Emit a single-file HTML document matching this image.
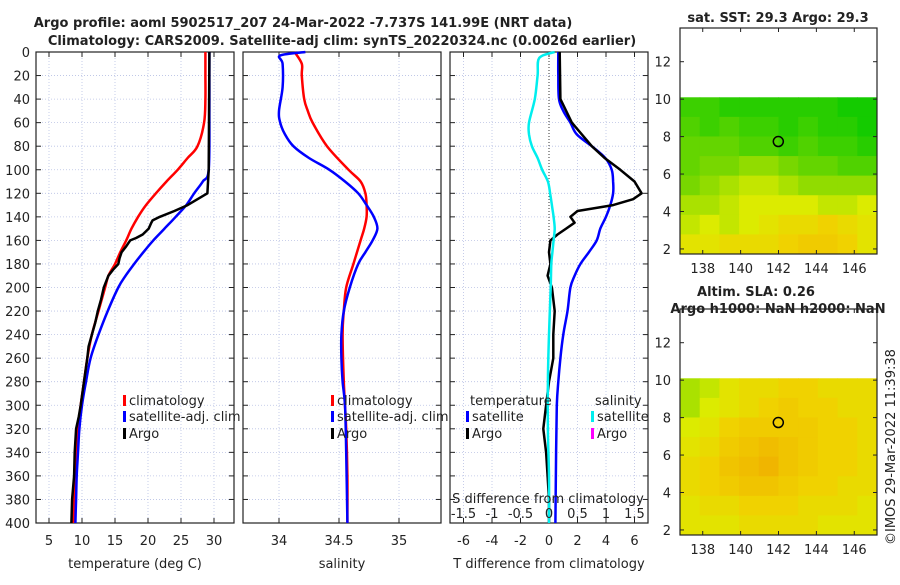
<!DOCTYPE html>
<html><head><meta charset="utf-8"><style>
body{margin:0;background:#fff;}
svg text{font-family:"DejaVu Sans","Liberation Sans",sans-serif;fill:#222;}
</style></head><body>
<svg id="c" width="900" height="580" xmlns="http://www.w3.org/2000/svg">
<text x="303" y="27" font-size="13" font-weight="bold" text-anchor="middle">Argo profile: aoml 5902517_207 24-Mar-2022 -7.737S 141.99E (NRT data)</text>
<text x="342" y="45" font-size="13" font-weight="bold" text-anchor="middle">Climatology: CARS2009. Satellite-adj clim: synTS_20220324.nc (0.0026d earlier)</text>
<text x="778" y="22" font-size="13" font-weight="bold" text-anchor="middle">sat. SST: 29.3 Argo: 29.3</text>
<text x="756" y="296" font-size="13" font-weight="bold" text-anchor="middle">Altim. SLA: 0.26</text>
<text x="778" y="313" font-size="13" font-weight="bold" text-anchor="middle">Argo h1000: NaN h2000: NaN</text>
<text transform="translate(895,545) rotate(-90)" font-size="13">©IMOS 29-Mar-2022 11:39:38</text>
</svg>
<script>
// ---- data ----
const depthTicks=[0,20,40,60,80,100,120,140,160,180,200,220,240,260,280,300,320,340,360,380,400];
const tTicks=[5,10,15,20,25,30];
const sTicks=[34,34.5,35];
const sTickLabels=["34","34.5","35"];
const dTTicks=[-6,-4,-2,0,2,4,6];
const dSTicks=[-1.5,-1,-0.5,0,0.5,1,1.5];
const dSTickLabels=["-1.5","-1","-0.5","0","0.5","1","1.5"];
const climTdepth=[0,20,40,60,80,90,100,110,120,130,140,150,160,170,180,190,200,220,240,260,280,300,320,340,360,380,400];
const climT=[28.7,28.7,28.7,28.5,27.5,26,24.5,22.8,21.2,19.7,18.5,17.5,16.7,15.8,15,14,13.5,12.5,11.5,10.8,10.3,9.8,9.4,9.2,9,8.8,8.7];
const satTdepth=[0,50,100,110,120,130,140,150,160,170,180,190,200,220,240,260,280,300,320,340,360,380,400];
const satT=[29.3,29.3,29.2,28.3,27,25.8,24.2,22.5,20.8,19.3,17.9,16.6,15.5,13.9,12.5,11.3,10.6,10,9.6,9.4,9.2,9.1,9];
const argoTdepth=[0,100,120,125,130,135,140,143,145,150,155,158,160,165,170,175,180,185,190,200,210,220,230,240,250,260,280,300,310,320,340,360,380,400];
const argoT=[29.3,29.2,29.0,27.5,26,24,21.8,20.7,20.5,20.1,19.2,18.2,17.3,16.7,16.0,15.7,15.5,14.7,14.0,13.3,12.9,12.4,12.0,11.5,11.0,10.8,10.3,9.8,9.5,9.1,8.9,8.8,8.5,8.4];
const climSdepth=[0,10,20,40,50,60,80,100,110,120,130,140,150,160,180,200,220,240,280,320,360,400];
const climS=[34.13,34.19,34.19,34.21,34.24,34.28,34.4,34.58,34.68,34.72,34.73,34.73,34.71,34.68,34.62,34.56,34.54,34.53,34.54,34.56,34.57,34.57];
const satSdepth=[0,3,10,30,50,60,70,80,90,100,110,120,130,140,150,160,170,180,200,220,240,260,280,300,340,400];
const satS=[34.22,34.01,34.03,34.03,34.0,34.01,34.05,34.12,34.25,34.42,34.55,34.66,34.73,34.79,34.82,34.78,34.72,34.66,34.59,34.54,34.52,34.52,34.53,34.55,34.56,34.57];
const dTsatDepth=[0,20,40,50,60,70,80,90,100,110,120,130,140,150,160,170,180,190,200,220,240,260,280,300,340,400];
const dTsat=[0.65,0.65,0.7,1.0,1.5,1.95,3.0,3.95,4.4,4.5,4.5,4.3,4.0,3.6,3.35,2.8,2.2,1.8,1.5,1.3,1.0,0.8,0.65,0.55,0.5,0.45];
const dTargoDepth=[0,40,60,80,90,100,110,120,125,130,135,140,145,150,155,160,170,180,190,200,210,220,240,260,280,300,320,340,360,380,400];
const dTargo=[0.75,0.8,1.6,3.0,3.9,5.0,6.0,6.5,5.9,4.5,2.0,1.5,1.8,1.2,0.6,0.1,0.0,0.1,-0.1,0.2,0.3,0.4,0.3,0.3,0.0,-0.2,-0.4,-0.2,-0.1,0,0];
const dSsatDepth=[0,5,20,40,60,70,80,90,100,110,120,130,140,150,160,170,180,200,240,280,320,360,400];
const dSsat=[0.1,-0.17,-0.2,-0.25,-0.35,-0.35,-0.3,-0.2,-0.12,-0.02,0.02,0.05,0.08,0.1,0.08,0.06,0.04,0.03,0.0,-0.02,-0.02,0.0,0.0];
const lonTicks=[138,140,142,144,146];
const latTicks=[2,4,6,8,10,12];
const sstGrid=[
[0.85,0.85,0.9,0.9,0.9,0.9,0.9,0.9,0.95,0.95],
[0.8,0.85,0.8,0.85,0.85,0.9,0.85,0.9,0.9,0.95],
[0.75,0.75,0.75,0.8,0.8,0.85,0.8,0.85,0.85,0.9],
[0.75,0.7,0.7,0.65,0.65,0.7,0.75,0.75,0.8,0.8],
[0.7,0.65,0.6,0.55,0.55,0.6,0.65,0.65,0.65,0.65],
[0.6,0.6,0.55,0.5,0.5,0.5,0.5,0.55,0.55,0.5],
[0.55,0.5,0.55,0.5,0.45,0.4,0.4,0.35,0.4,0.45],
[0.45,0.45,0.4,0.4,0.4,0.35,0.3,0.3,0.35,0.45]];
const slaGrid=[
[0.6,0.55,0.45,0.4,0.4,0.35,0.35,0.4,0.4,0.4],
[0.6,0.5,0.45,0.4,0.35,0.3,0.35,0.35,0.4,0.4],
[0.5,0.45,0.35,0.3,0.3,0.3,0.3,0.35,0.35,0.4],
[0.45,0.4,0.3,0.25,0.2,0.25,0.3,0.35,0.35,0.4],
[0.4,0.35,0.25,0.2,0.15,0.25,0.3,0.35,0.35,0.4],
[0.4,0.35,0.3,0.25,0.25,0.3,0.35,0.35,0.4,0.4],
[0.45,0.4,0.4,0.35,0.35,0.35,0.4,0.4,0.4,0.45],
[0.45,0.45,0.45,0.4,0.4,0.4,0.4,0.45,0.45,0.45]];
const argoLon=141.99, argoLat=7.737;

const NS="http://www.w3.org/2000/svg";
const svg=document.getElementById('c');
function mk(tag,attrs,parent){const e=document.createElementNS(NS,tag);for(const k in attrs)e.setAttribute(k,attrs[k]);(parent||svg).appendChild(e);return e;}
function txt(x,y,s,size,anchor){const t=mk('text',{x:x,y:y,'font-size':size||13,'text-anchor':anchor||'middle'});t.textContent=s;return t;}
const Y0=52,Y1=523;
const yD=d=>Y0+(d/400)*(Y1-Y0);
function lin(d0,d1,p0,p1){return v=>p0+(v-d0)/(d1-d0)*(p1-p0);}

function panel(name,x0,x1,xs,ticks,labels,showY){
  const g=mk('g',{});
  
  
  ticks.forEach(v=>{const x=xs(v);mk('line',{x1:x,x2:x,y1:Y0,y2:Y1,stroke:'#b8c0e4','stroke-width':0.8,'stroke-dasharray':'1,2'},g);
    mk('line',{x1:x,x2:x,y1:Y1,y2:Y1-5,stroke:'#222'},g);mk('line',{x1:x,x2:x,y1:Y0,y2:Y0+5,stroke:'#222'},g);});
  depthTicks.forEach(d=>{const y=yD(d);mk('line',{x1:x0,x2:x1,y1:y,y2:y,stroke:'#b8c0e4','stroke-width':0.8,'stroke-dasharray':'1,2'},g);
    mk('line',{x1:x0,x2:x0+5,y1:y,y2:y,stroke:'#222'},g);mk('line',{x1:x1,x2:x1-5,y1:y,y2:y,stroke:'#222'},g);
    if(showY){const t=txt(30,y+5,String(d),13,'end');}});
  mk('rect',{x:x0,y:Y0,width:x1-x0,height:Y1-Y0,fill:'none',stroke:'#222','stroke-width':1.2},g);
  ticks.forEach((v,i)=>{const t=txt(xs(v),545,labels[i]);});
  return g;
}
function line(name,xs,vals,depths,color,smooth){
  const P=vals.map((v,i)=>[xs(v),yD(depths[i])]);
  let d='M'+P[0][0].toFixed(1)+','+P[0][1].toFixed(1);
  if(smooth){
    for(let i=0;i<P.length-1;i++){
      const p0=P[i-1]||P[i],p1=P[i],p2=P[i+1],p3=P[i+2]||p2;
      const c1=[p1[0]+(p2[0]-p0[0])/6,p1[1]+(p2[1]-p0[1])/6];
      const c2=[p2[0]-(p3[0]-p1[0])/6,p2[1]-(p3[1]-p1[1])/6];
      d+=' C'+c1.map(n=>n.toFixed(1)).join(',')+' '+c2.map(n=>n.toFixed(1)).join(',')+' '+p2.map(n=>n.toFixed(1)).join(',');
    }
  } else { for(let i=1;i<P.length;i++) d+=' L'+P[i][0].toFixed(1)+','+P[i][1].toFixed(1); }
  const e=mk('path',{d:d,fill:'none',stroke:color,'stroke-width':2.5,'stroke-linejoin':'round'});
  
  
}
function legend(x,y,color,label,name){
  mk('rect',{x:x,y:y-10,width:3,height:11,fill:color});
  const t=txt(x+6,y,label,13,'start');
  
  
}
// panel 1
const xT=lin(5,30,49,214);
panel('temperature-panel',36,234,xT,tTicks,tTicks.map(String),true);
line('climatology-temperature-line',xT,climT,climTdepth,'#f00',true);
line('satellite-temperature-line',xT,satT,satTdepth,'#00f',true);
line('argo-temperature-line',xT,argoT,argoTdepth,'#000',false);
let t=txt(135,568,'temperature (deg C)');
legend(123,405,'#f00','climatology','legend-climatology');
legend(123,421,'#00f','satellite-adj. clim','legend-satellite');
legend(123,438,'#000','Argo','legend-argo');
// panel 2
const xS=lin(34,35,279,399);
panel('salinity-panel',243,441,xS,sTicks,sTickLabels,false);
line('climatology-salinity-line',xS,climS,climSdepth,'#f00',true);
line('satellite-salinity-line',xS,satS,satSdepth,'#00f',true);
t=txt(342,568,'salinity');
legend(331,405,'#f00','climatology','legend-climatology-2');
legend(331,421,'#00f','satellite-adj. clim','legend-satellite-2');
legend(331,438,'#000','Argo','legend-argo-2');
// panel 3
const xDT=lin(-6,6,463.5,634.5);
const xDS=lin(-1.5,1.5,463.5,634.5);
panel('difference-panel',450,648,xDT,dTTicks,dTTicks.map(String),false);
mk('line',{x1:xDT(0),x2:xDT(0),y1:Y0,y2:yD(165),stroke:'#333','stroke-dasharray':'1,2'});
line('satellite-temp-diff-line',xDT,dTsat,dTsatDepth,'#00f',true);
line('argo-temp-diff-line',xDT,dTargo,dTargoDepth,'#000',false);
line('satellite-sal-diff-line',xDS,dSsat,dSsatDepth,'#0ee',true);
dSTicks.forEach((v,i)=>{const e=txt(xDS(v),518,dSTickLabels[i]);});
t=txt(548,503,'S difference from climatology');
t=txt(549,568,'T difference from climatology');
t=txt(470,405,'temperature',13,'start');
legend(466,421,'#00f','satellite','legend-temp-satellite');
legend(466,438,'#000','Argo','legend-temp-argo');
t=txt(595,405,'salinity',13,'start');
legend(591,421,'#0ee','satellite','legend-sal-satellite');
legend(591,438,'#f0f','Argo','legend-sal-argo');

// maps
function cmap(v){const st=[[0,240,160,0],[0.35,240,210,0],[0.5,220,235,0],[0.7,120,215,0],[1,0,200,0]];
  for(let i=1;i<st.length;i++){if(v<=st[i][0]){const a=st[i-1],b=st[i],f=(v-a[0])/(b[0]-a[0]);
    return 'rgb('+[1,2,3].map(k=>Math.round(a[k]+f*(b[k]-a[k]))).join(',')+')';}}return 'rgb(0,200,0)';}
function map(name,top,bottom,grid){
  const x0=680,x1=877;
  const xL=lin(136.8,147.2,x0,x1);
  const yL=lin(13.8,1.73,top,bottom);
  const g=mk('g',{});
  
  
  const nr=grid.length,nc=grid[0].length;
  const lat0=10.1,lat1=1.73,lon0=136.8,lon1=147.2;
  grid.forEach((row,r)=>row.forEach((v,c)=>{
    const la=lat0-(lat0-lat1)*r/nr, lb=lat0-(lat0-lat1)*(r+1)/nr;
    const oa=lon0+(lon1-lon0)*c/nc, ob=lon0+(lon1-lon0)*(c+1)/nc;
    const cell=mk('rect',{x:xL(oa),y:yL(la),width:xL(ob)-xL(oa)+0.5,height:yL(lb)-yL(la)+0.5,fill:cmap(v)},g);
    
    
  }));
  mk('rect',{x:x0,y:top,width:x1-x0,height:bottom-top,fill:'none',stroke:'#222','stroke-width':1.2},g);
  lonTicks.forEach(v=>{const x=xL(v);mk('line',{x1:x,x2:x,y1:bottom,y2:bottom-4,stroke:'#222'},g);mk('line',{x1:x,x2:x,y1:top,y2:top+4,stroke:'#222'},g);
    const e=txt(x,bottom+19,String(v));});
  latTicks.forEach(v=>{const y=yL(v);mk('line',{x1:x0,x2:x0+4,y1:y,y2:y,stroke:'#222'},g);mk('line',{x1:x1,x2:x1-4,y1:y,y2:y,stroke:'#222'},g);
    const e=txt(671,y+5,String(v),13,'end');});
  const m=mk('circle',{cx:xL(argoLon),cy:yL(argoLat),r:5,fill:'none',stroke:'#000','stroke-width':1.5},g);
  
  
}
map('sst-map',28,254,sstGrid);
map('sla-map',309,535,slaGrid);
</script>
</body></html>
